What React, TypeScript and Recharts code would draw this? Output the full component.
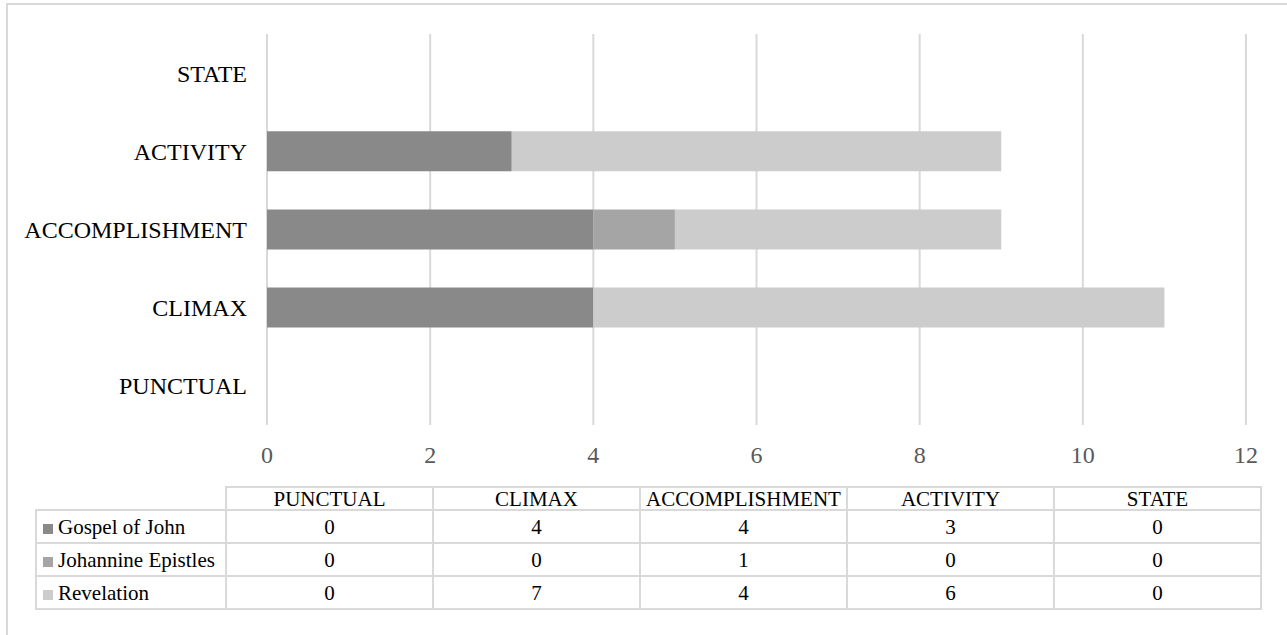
import { BarChart, Bar, XAxis, YAxis, CartesianGrid } from "recharts";

const categories = ["PUNCTUAL", "CLIMAX", "ACCOMPLISHMENT", "ACTIVITY", "STATE"];
const gospelOfJohn = [0, 4, 4, 3, 0];
const johannineEpistles = [0, 0, 1, 0, 0];
const revelation = [0, 7, 4, 6, 0];
const xTicks = [0, 2, 4, 6, 8, 10, 12];

const series = [
  { key: "gospel", name: "Gospel of John", values: gospelOfJohn, color: "#898989" },
  { key: "epistles", name: "Johannine Epistles", values: johannineEpistles, color: "#a5a5a5" },
  { key: "revelation", name: "Revelation", values: revelation, color: "#cccccc" },
];

const data = categories.map((cat, i) => ({
  name: cat,
  gospel: gospelOfJohn[i],
  epistles: johannineEpistles[i],
  revelation: revelation[i],
}));

const FONT = '"Liberation Serif", "Times New Roman", serif';
const BORDER = "2px solid #d9d9d9";

function DataTable() {
  const cell: any = {
    border: BORDER,
    textAlign: "center",
    padding: 0,
    fontSize: 21,
    fontFamily: FONT,
    color: "#000",
    lineHeight: "20px",
  };
  return (
    <table
      style={{
        position: "absolute",
        left: 35,
        top: 486,
        width: 1225,
        borderCollapse: "collapse",
        tableLayout: "fixed",
        fontFamily: FONT,
      }}
    >
      <colgroup>
        <col style={{ width: 190 }} />
        {categories.map((c) => (
          <col key={c} style={{ width: 207 }} />
        ))}
      </colgroup>
      <tbody>
        <tr style={{ height: 23 }}>
          <td style={{ ...cell, border: "none" }}></td>
          {categories.map((c) => (
            <td key={c} style={cell}>{c}</td>
          ))}
        </tr>
        {series.map((s) => (
          <tr key={s.key} style={{ height: 33 }}>
            <td style={{ ...cell, textAlign: "left", whiteSpace: "nowrap" }}>
              <span
                style={{
                  display: "inline-block",
                  width: 10,
                  height: 10,
                  background: s.color,
                  margin: "0 5px 0 6px",
                }}
              ></span>
              {s.name}
            </td>
            {s.values.map((v, i) => (
              <td key={i} style={cell}>{v}</td>
            ))}
          </tr>
        ))}
      </tbody>
    </table>
  );
}

export default function App() {
  return (
    <div style={{ position: "absolute", left: 0, top: 0, width: 1287, height: 635, background: "#fff", overflow: "hidden" }}>
      <div
        style={{
          position: "absolute",
          left: 6,
          top: 3,
          width: 1300,
          height: 660,
          border: BORDER,
        }}
      ></div>
      <div style={{ position: "absolute", left: 0, top: 0 }}>
        <BarChart
          width={1287}
          height={635}
          data={data}
          layout="vertical"
          margin={{ top: 34, right: 41, left: 0, bottom: 180 }}
        >
          <CartesianGrid horizontal={false} stroke="#d9d9d9" strokeWidth={2} />
          <XAxis
            type="number"
            domain={[0, 12]}
            ticks={xTicks}
            axisLine={false}
            tickLine={false}
            tickMargin={15}
            height={30}
            tick={{ fill: "#595959", fontSize: 24, fontFamily: FONT }}
          />
          <YAxis
            type="category"
            dataKey="name"
            reversed
            width={267}
            axisLine={false}
            tickLine={false}
            tickMargin={14}
            tick={{ fill: "#000", fontSize: 24, fontFamily: FONT }}
          />
          {series.map((s) => (
            <Bar
              key={s.key}
              dataKey={s.key}
              name={s.name}
              stackId="a"
              fill={s.color}
              barSize={40}
              isAnimationActive={false}
            />
          ))}
        </BarChart>
      </div>
      <DataTable />
    </div>
  );
}
